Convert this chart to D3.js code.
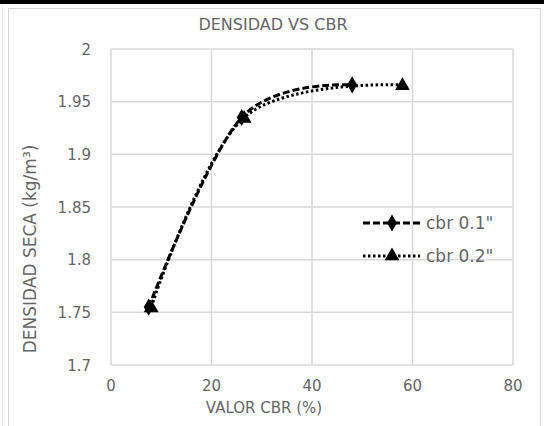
<!DOCTYPE html>
<html><head><meta charset="utf-8">
<script src="https://cdn.jsdelivr.net/npm/d3@7"></script>
<style>body{margin:0;background:#fff}svg{display:block}text{font-family:"DejaVu Sans",sans-serif;fill:#666666}</style>
</head><body><svg id="c" width="544" height="426"></svg>
<script>
const seriesNames = ["cbr 0.1\"", "cbr 0.2\""];
const cbr01X = [7.5, 26, 48];
const cbr01Y = [1.755, 1.935, 1.966];
const cbr02X = [8, 26.5, 58];
const cbr02Y = [1.755, 1.935, 1.966];
const xTicks = [0, 20, 40, 60, 80];
const yTicks = [1.7, 1.75, 1.8, 1.85, 1.9, 1.95, 2];
const yTickLabels = ["1.7", "1.75", "1.8", "1.85", "1.9", "1.95", "2"];

const svg = d3.select("#c");
svg.append("rect").attr("x",0).attr("y",0).attr("width",544).attr("height",4).attr("fill","#000");
svg.append("rect").attr("x",8.5).attr("y",8.5).attr("width",532).attr("height",430).attr("fill","none").attr("stroke","#d9d9d9");
svg.append("line").attr("x1",2.5).attr("x2",2.5).attr("y1",4).attr("y2",426).attr("stroke","#eeeeee");

const x = d3.scaleLinear().domain([0,80]).range([111,513]);
const y = d3.scaleLinear().domain([1.7,2]).range([365,49]);

const g = svg.append("g");
g.selectAll(".vg").data(xTicks).join("line").attr("x1",d=>x(d)).attr("x2",d=>x(d)).attr("y1",y(2)).attr("y2",y(1.7)).attr("stroke","#d9d9d9").attr("stroke-width",1.5);
g.selectAll(".hg").data(yTicks).join("line").attr("x1",x(0)).attr("x2",x(80)).attr("y1",d=>y(d)).attr("y2",d=>y(d)).attr("stroke","#d9d9d9").attr("stroke-width",1.5);

g.selectAll(".xt").data(xTicks).join("text").attr("x",d=>x(d)).attr("y",391).attr("text-anchor","middle").attr("font-size",15).text(d=>d);
g.selectAll(".yt").data(yTicks).join("text").attr("x",91).attr("y",d=>y(d)+5.5).attr("text-anchor","end").attr("font-size",15).text((d,i)=>yTickLabels[i]);

svg.append("text").attr("x",273).attr("y",30).attr("text-anchor","middle").attr("font-size",16).text("DENSIDAD VS CBR");
svg.append("text").attr("x",264).attr("y",413).attr("text-anchor","middle").attr("font-size",15).text("VALOR CBR (%)");
svg.append("text").attr("transform","translate(36,249) rotate(-90)").attr("text-anchor","middle").attr("font-size",17).text("DENSIDAD SECA (kg/m³)");

const line = d3.line().x(d=>x(d[0])).y(d=>y(d[1])).curve(d3.curveCatmullRom.alpha(0));
const s1 = cbr01X.map((v,i)=>[v,cbr01Y[i]]);
const s2 = cbr02X.map((v,i)=>[v,cbr02Y[i]]);
g.append("path").datum(s1).attr("d",line).attr("fill","none").attr("stroke","#000").attr("stroke-width",3).attr("stroke-dasharray","7,3");
g.append("path").datum(s2).attr("d",line).attr("fill","none").attr("stroke","#000").attr("stroke-width",3).attr("stroke-dasharray","2.5,2.5");

const diamond = d3.symbol().type(d3.symbolDiamond).size(85);
const tri = d3.symbol().type(d3.symbolTriangle).size(95);
g.selectAll(".m1").data(s1).join("path").attr("d",diamond).attr("transform",d=>`translate(${x(d[0])},${y(d[1])})`).attr("fill","#000");
g.selectAll(".m2").data(s2).join("path").attr("d",tri).attr("transform",d=>`translate(${x(d[0])},${y(d[1])+1})`).attr("fill","#000");

// legend
const lg = svg.append("g");
[0,1].forEach(i=>{
  const ly = 223 + i*33;
  lg.append("line").attr("x1",363).attr("x2",420).attr("y1",ly).attr("y2",ly).attr("stroke","#000").attr("stroke-width",3).attr("stroke-dasharray", i===0?"7,3":"2.5,2.5");
  lg.append("path").attr("d", i===0?diamond:tri).attr("transform",`translate(392,${ly})`).attr("fill","#000");
  lg.append("text").attr("x",426).attr("y",ly+6).attr("font-size",17).text(seriesNames[i]);
});
</script></body></html>
